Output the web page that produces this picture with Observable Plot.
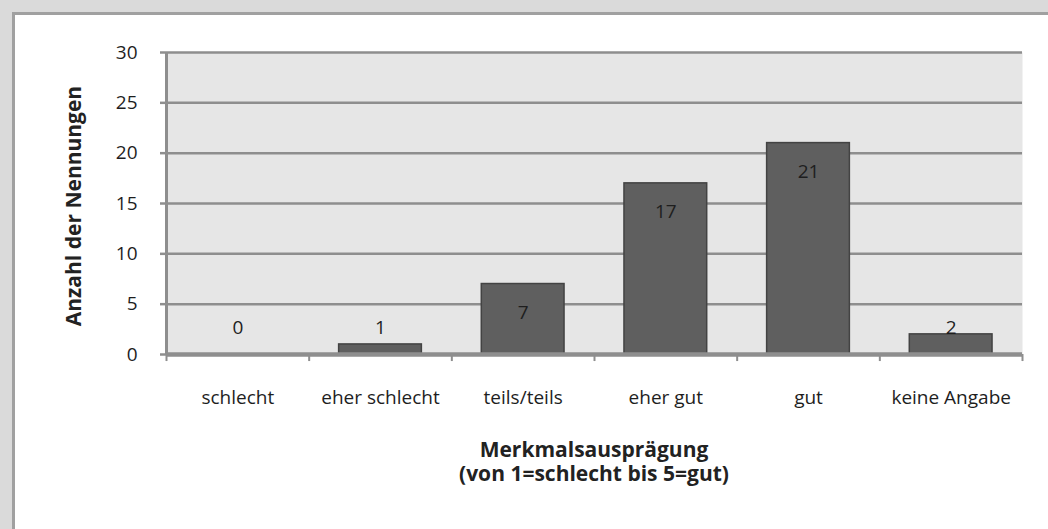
<!DOCTYPE html>
<html>
<head>
<meta charset="utf-8">
<script src="https://cdn.jsdelivr.net/npm/d3@7"></script>
<script src="https://cdn.jsdelivr.net/npm/@observablehq/plot@0.6"></script>
<style>
  html, body { margin: 0; padding: 0; width: 1048px; height: 529px; overflow: hidden; background: #dadada; }
  #panel { position: absolute; left: 12px; top: 12px; right: 0; bottom: 0; background: #ffffff;
           border-left: 3px solid #a0a0a0; border-top: 3px solid #a0a0a0; }
  #chart { position: absolute; left: 0; top: 0; }
  .title { position: absolute; font-family: 'Open Sans', sans-serif; font-weight: bold; font-size: 21px;
           line-height: 24px; color: #222222; text-align: center; white-space: pre; }
  #xtitle { left: 0; width: 1188px; top: 437px; }
  #ytitle { left: -127px; width: 400px; top: 194px; transform: rotate(-90deg); transform-origin: 50% 50%; }
</style>
</head>
<body>
<div id="panel"></div>
<div id="chart"></div>
<div id="xtitle" class="title"></div>
<div id="ytitle" class="title"></div>
<script>
const categories = ["schlecht", "eher schlecht", "teils/teils", "eher gut", "gut", "keine Angabe"];
const counts = [0, 1, 7, 17, 21, 2];
const yTicks = [0, 5, 10, 15, 20, 25, 30];
const xTitle = "Merkmalsausprägung\n(von 1=schlecht bis 5=gut)";
const yTitle = "Anzahl der Nennungen";

const data = categories.map((c, i) => ({category: c, value: counts[i]}));

const W = 1048, H = 529, mL = 166, mR = 26, mT = 52, mB = 175;
const step = (W - mL - mR) / categories.length;

const chart = Plot.plot({
  width: W, height: H,
  marginLeft: mL, marginRight: mR, marginTop: mT, marginBottom: mB,
  style: {background: "transparent", fontFamily: "'Open Sans', sans-serif", fontSize: "19px", color: "#1e1e1e", overflow: "visible"},
  x: {type: "band", domain: categories, paddingInner: 0.42, paddingOuter: 0.21, round: false, axis: null},
  y: {domain: [0, 30], axis: null},
  marks: [
    Plot.frame({fill: "#e6e6e6", stroke: null}),
    Plot.gridY(yTicks.filter(t => t > 0), {stroke: "#8e8e8e", strokeOpacity: 1, strokeWidth: 2.5}),
    Plot.axisY({ticks: yTicks, tickSize: 6, tickPadding: 23, stroke: "#8e8e8e", strokeWidth: 2.5,
      label: null, tickFormat: d => String(d), fontSize: 19}),
    Plot.ruleX([categories[0]], {x: d => d, dx: -step / 2, y1: 0, y2: 30, stroke: "#8e8e8e", strokeWidth: 3}),
    Plot.barY(data, {x: "category", y: "value", fill: "#5f5f5f", stroke: "#434343", strokeWidth: 1.5}),
    Plot.ruleY([0], {stroke: "#8e8e8e", strokeWidth: 4.5}),
    Plot.ruleX(categories, {x: d => d, dx: -step / 2, y1: 0, y2: -0.7, stroke: "#8e8e8e", strokeWidth: 2}),
    Plot.ruleX([categories[categories.length - 1]], {x: d => d, dx: step / 2, y1: 0, y2: -0.7, stroke: "#8e8e8e", strokeWidth: 2}),
    Plot.text(data, {x: "category", y: d => Math.max(d.value, 5.5), dy: 29, text: d => String(d.value), fill: "#1e1e1e", fontSize: 19}),
    Plot.axisX({tickSize: 0, tickPadding: 36, label: null, fontSize: 19})
  ]
});
document.getElementById("chart").appendChild(chart);
document.getElementById("xtitle").textContent = xTitle;
document.getElementById("ytitle").textContent = yTitle;
</script>
</body>
</html>
